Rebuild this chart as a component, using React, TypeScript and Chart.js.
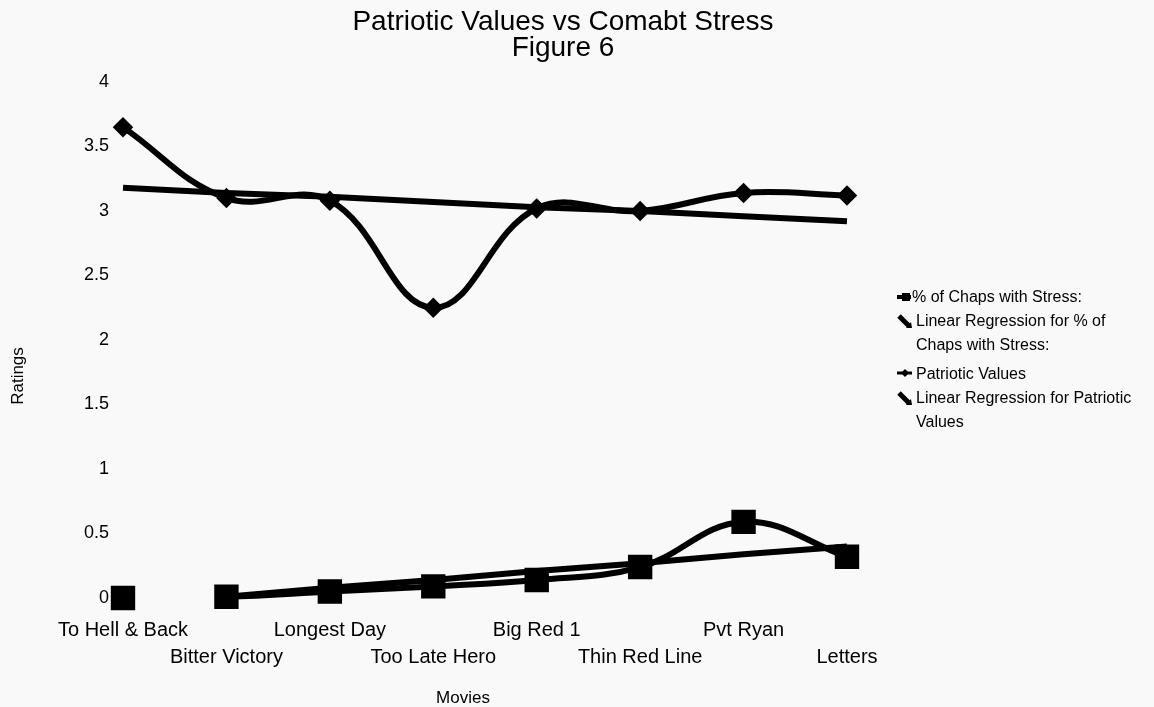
import React, { useEffect, useRef } from 'react';
import { Chart, registerables } from 'chart.js';

Chart.register(...registerables);

const movies = [
  'To Hell & Back',
  'Bitter Victory',
  'Longest Day',
  'Too Late Hero',
  'Big Red 1',
  'Thin Red Line',
  'Pvt Ryan',
  'Letters',
];
const stressPct = [0, 0.01, 0.05, 0.09, 0.14, 0.24, 0.59, 0.32];
const stressTrend = [null, 0.01, 0.08, 0.14, 0.21, 0.27, 0.34, 0.4];
const patrioticValues = [3.65, 3.1, 3.08, 2.25, 3.02, 3.0, 3.14, 3.12];
const patrioticTrend = [3.18, 3.14, 3.11, 3.07, 3.03, 3.0, 2.96, 2.92];

const titleLines = ['Patriotic Values vs Comabt Stress', 'Figure 6'];
const yAxisTitle = 'Ratings';
const xAxisTitle = 'Movies';
const yMin = 0;
const yMax = 4;
const yStep = 0.5;

const legendItems = [
  ['% of Chaps with Stress:'],
  ['Linear Regression for % of', 'Chaps with Stress:'],
  ['Patriotic Values'],
  ['Linear Regression for Patriotic', 'Values'],
];
const legendIcons = ['square', 'slant', 'diamond', 'slant'];

const FONT = '"Liberation Sans", Arial, Helvetica, sans-serif';

const sidePlugin = {
  id: 'sideDecor',
  afterDraw(chart: any) {
    const { ctx, chartArea } = chart;
    ctx.save();
    ctx.fillStyle = '#000';
    ctx.strokeStyle = '#000';
    ctx.textBaseline = 'middle';

    // axis titles
    ctx.font = `17px ${FONT}`;
    ctx.textAlign = 'center';
    ctx.save();
    ctx.translate(chartArea.left - 105, chartArea.top + 294);
    ctx.rotate(-Math.PI / 2);
    ctx.fillText(yAxisTitle, 0, 0);
    ctx.restore();
    ctx.fillText(xAxisTitle, chartArea.left + 340, chartArea.bottom + 100);

    // legend
    const x0 = chartArea.right + 50;
    let y = chartArea.top + 216;
    ctx.font = `16px ${FONT}`;
    ctx.textAlign = 'left';
    legendItems.forEach((lines, i) => {
      const kind = legendIcons[i];
      ctx.lineCap = 'butt';
      if (kind === 'square') {
        ctx.lineWidth = 4;
        ctx.beginPath();
        ctx.moveTo(x0, y - 1);
        ctx.lineTo(x0 + 14, y - 1);
        ctx.stroke();
        ctx.fillRect(x0 + 5, y - 5, 8, 8);
      } else if (kind === 'diamond') {
        ctx.lineWidth = 3;
        ctx.beginPath();
        ctx.moveTo(x0, y - 2);
        ctx.lineTo(x0 + 15, y - 2);
        ctx.stroke();
        ctx.beginPath();
        ctx.moveTo(x0 + 8, y - 6);
        ctx.lineTo(x0 + 12, y - 2);
        ctx.lineTo(x0 + 8, y + 2);
        ctx.lineTo(x0 + 4, y - 2);
        ctx.closePath();
        ctx.fill();
      } else {
        ctx.lineWidth = 5;
        ctx.beginPath();
        ctx.moveTo(x0 + 2, y - 6);
        ctx.lineTo(x0 + 12, y + 4);
        ctx.stroke();
        ctx.beginPath();
        ctx.moveTo(x0 + 9, y + 6);
        ctx.lineTo(x0 + 15, y + 6);
        ctx.lineTo(x0 + 14, y);
        ctx.closePath();
        ctx.fill();
      }
      lines.forEach((t, j) => {
        ctx.fillText(t, x0 + (i === 0 && j === 0 ? 15 : 19), y + j * 24);
      });
      y += lines.length * 24 + (lines.length > 1 ? 5 : 0);
    });
    ctx.restore();
  },
};

export default function App() {
  const canvasRef = useRef<HTMLCanvasElement | null>(null);

  useEffect(() => {
    if (!canvasRef.current) return;
    const chart = new Chart(canvasRef.current, {
      type: 'line',
      data: {
        labels: movies,
        datasets: [
          {
            label: '% of Chaps with Stress:',
            data: stressPct,
            borderColor: '#000',
            backgroundColor: '#000',
            borderWidth: 6,
            tension: 0.4,
            pointStyle: 'rect',
            pointRadius: 13,
            pointHoverRadius: 13,
            clip: false,
            segment: {
              borderColor: (c: any) => (c.p0DataIndex === 0 ? 'rgba(0,0,0,0)' : '#000'),
            },
          },
          {
            label: 'Linear Regression for % of Chaps with Stress:',
            data: stressTrend,
            borderColor: '#000',
            backgroundColor: '#000',
            borderWidth: 6,
            tension: 0,
            pointRadius: 0,
            clip: false,
          },
          {
            label: 'Patriotic Values',
            data: patrioticValues,
            borderColor: '#000',
            backgroundColor: '#000',
            borderWidth: 6,
            tension: 0.4,
            pointStyle: 'rectRot',
            pointRadius: 6,
            pointHoverRadius: 6,
            clip: false,
          },
          {
            label: 'Linear Regression for Patriotic Values',
            data: patrioticTrend,
            borderColor: '#000',
            backgroundColor: '#000',
            borderWidth: 6,
            tension: 0,
            pointRadius: 0,
            clip: false,
          },
        ],
      },
      options: {
        animation: false,
        responsive: true,
        maintainAspectRatio: false,
        layout: { padding: { left: 0, right: 28, top: 0, bottom: 0 } },
        plugins: {
          legend: { display: false },
          tooltip: { enabled: false },
          title: {
            display: true,
            text: titleLines,
            color: '#000',
            font: { family: FONT, size: 28, weight: 'normal', lineHeight: '26px' },
            padding: { top: 9, bottom: 21 },
          },
        },
        scales: {
          x: {
            type: 'category',
            offset: false,
            grid: { display: false, drawTicks: false },
            border: { display: false },
            ticks: {
              color: '#000',
              autoSkip: false,
              maxRotation: 0,
              minRotation: 0,
              padding: 19,
              font: { family: FONT, size: 20, lineHeight: 1.35 },
              callback: (_v: any, i: number) => (i % 2 ? ['', movies[i]] : movies[i]),
            },
            afterFit: (s: any) => {
              s.height = 109;
            },
          },
          y: {
            min: yMin,
            max: yMax,
            grid: { display: false, drawTicks: false },
            border: { display: false },
            ticks: {
              stepSize: yStep,
              color: '#000',
              padding: 14,
              font: { family: FONT, size: 18 },
              callback: (v: any) => String(v),
            },
            afterFit: (s: any) => {
              s.width = 123;
            },
          },
          legendSpace: {
            type: 'linear',
            position: 'right',
            display: true,
            grid: { display: false, drawTicks: false },
            border: { display: false },
            ticks: { display: false },
            afterFit: (s: any) => {
              s.width = 279;
            },
          },
        },
      },
      plugins: [sidePlugin],
    });
    return () => chart.destroy();
  }, []);

  return (
    <div
      style={{
        position: 'absolute',
        left: 0,
        top: 0,
        width: 1154,
        height: 707,
        background: '#f9f9f9',
      }}
    >
      <canvas ref={canvasRef} />
    </div>
  );
}
